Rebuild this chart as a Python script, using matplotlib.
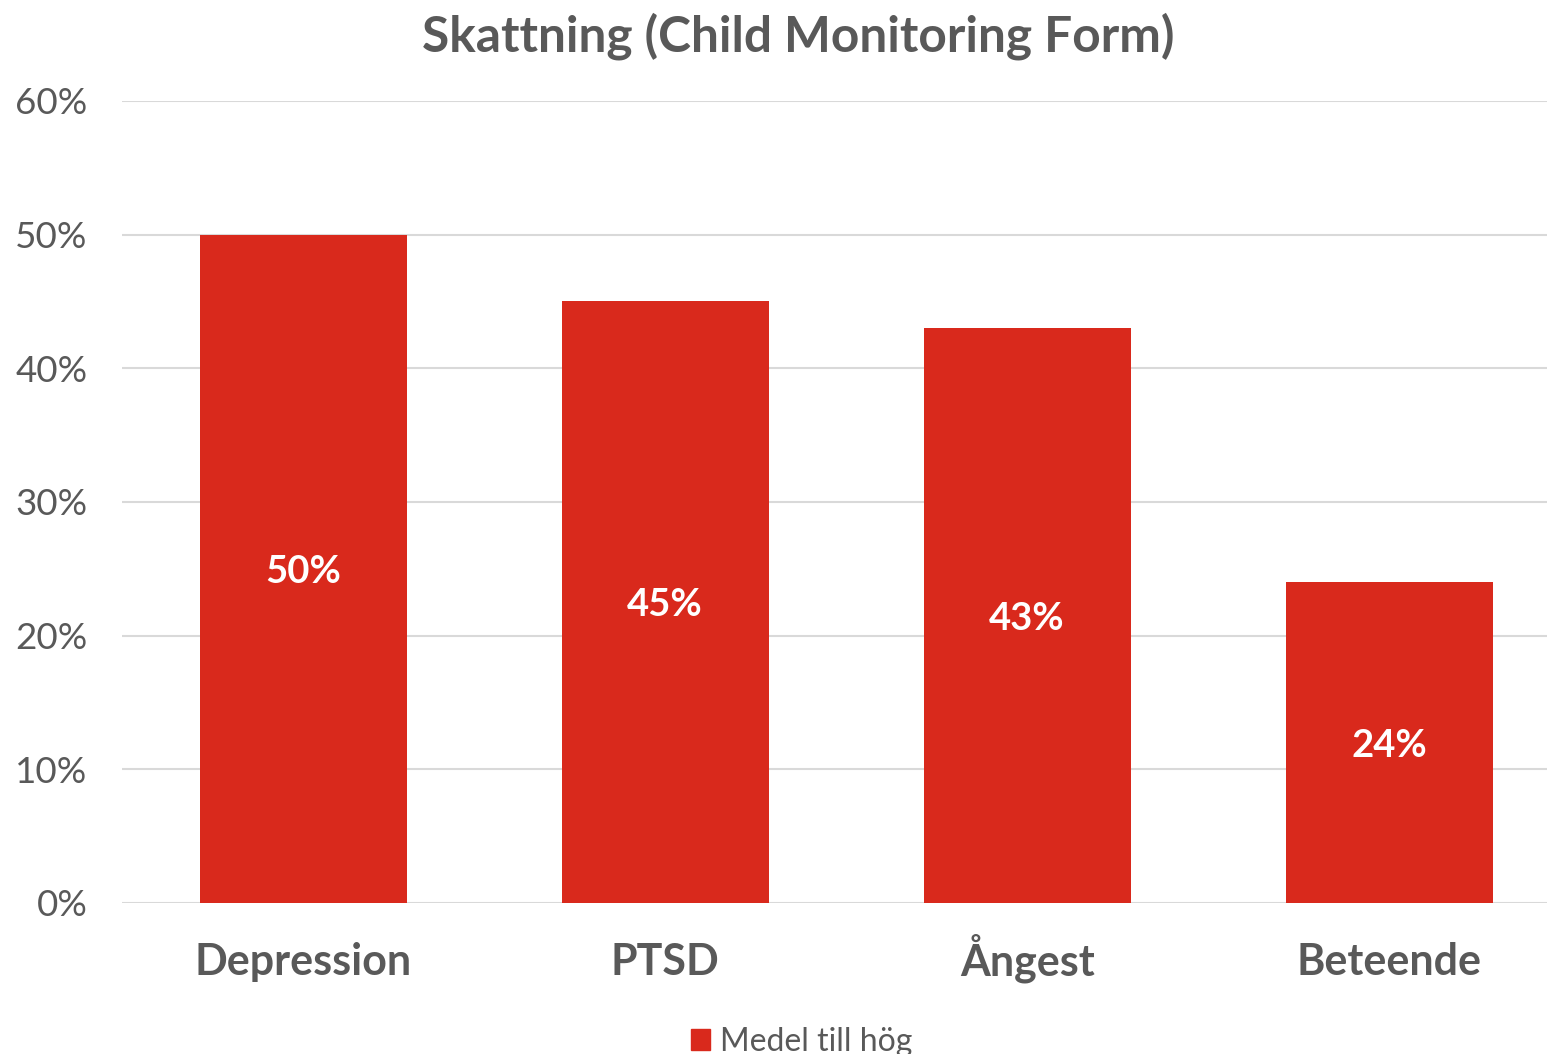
import matplotlib.pyplot as plt
from matplotlib.ticker import PercentFormatter
from matplotlib.patches import Patch

categories = ['Depression', 'PTSD', 'Ångest', 'Beteende']
values = [50, 45, 43, 24]
series_name = 'Medel till hög'
title = 'Skattning (Child Monitoring Form)'

bar_color = '#d9291c'
text_color = '#595959'
grid_color = '#d9d9d9'

plt.rcParams['font.family'] = ['Lato', 'DejaVu Sans']

fig = plt.figure(figsize=(15.47, 10.54), dpi=100)
ax = fig.add_axes([0.0789, 0.1433, 0.9211, 0.7609])

x = range(len(categories))
bars = ax.bar(x, values, width=0.572, color=bar_color, zorder=2)

# value labels in the middle of each bar
for b, v in zip(bars, values):
    ax.text(b.get_x() + b.get_width() / 2, v / 2, f'{v}%', ha='center', va='center_baseline',
            color='white', fontsize=27.5, fontweight='bold')

ax.set_ylim(0, 60)
ax.set_xlim(-0.5, 3.436)
ax.set_yticks(range(0, 61, 10))
ax.yaxis.set_major_formatter(PercentFormatter(decimals=0))
ax.set_xticks(list(x))
ax.set_xticklabels(categories, fontsize=31, fontweight='bold', color=text_color, va='baseline')
ax.tick_params(axis='y', labelsize=26.5, labelcolor=text_color, length=0, pad=25)
ax.tick_params(axis='x', length=0, pad=52)
ax.grid(axis='y', color=grid_color, linewidth=1.5, zorder=0)
for s in ax.spines.values():
    s.set_visible(False)

fig.suptitle(title, fontsize=35.7, fontweight='bold', color=text_color, x=0.516, y=0.988, va='top')

handle = Patch(color=bar_color)
fig.legend([handle], [series_name], loc='lower center', bbox_to_anchor=(0.518, -0.03),
           frameon=False, fontsize=23, labelcolor=text_color, handlelength=0.6,
           handleheight=0.6, handletextpad=0.3)

fig.savefig('out.png', dpi=100)
